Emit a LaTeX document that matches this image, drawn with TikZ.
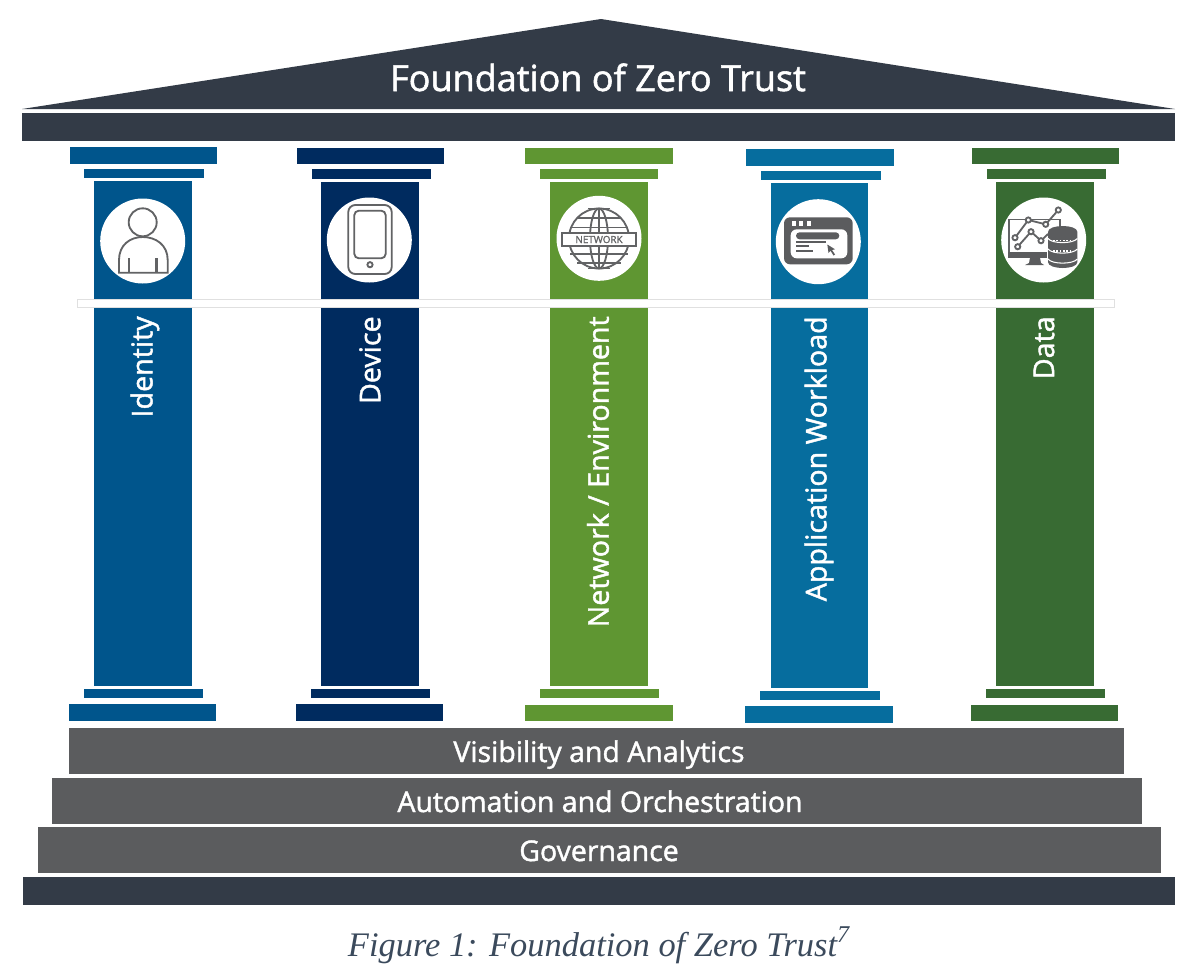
\documentclass[tikz,border=0pt]{standalone}
\usepackage{fontspec}
\setmainfont{Open Sans}[FakeBold=1.5]
\newfontfamily\captionfont{Liberation Serif}
\definecolor{roofdark}{HTML}{333B47}
\definecolor{stepgray}{HTML}{5B5C5E}
\definecolor{icongray}{HTML}{626365}
\definecolor{identblue}{HTML}{00558C}
\definecolor{devnavy}{HTML}{002B5F}
\definecolor{netgreen}{HTML}{5F9632}
\definecolor{appblue}{HTML}{066D9E}
\definecolor{datagreen}{HTML}{386B33}
\definecolor{captionink}{HTML}{3B4A5C}
\tikzset{
  pillartext/.style={text=white, font=\fontsize{16.3}{18}\selectfont, rotate=90, anchor=east, inner sep=0pt},
  steptext/.style={text=white, font=\fontsize{16.2}{18}\selectfont, inner sep=0pt, anchor=base},
  iconline/.style={draw=icongray, line width=1.05pt},
  iconthin/.style={draw=icongray, line width=0.6pt},
}
\begin{document}
\begin{tikzpicture}[x=0.02cm, y=-0.02cm]
  \useasboundingbox (0,0) rectangle (1200,978);
  % roof
  \fill[roofdark] (22,109) -- (601,19) -- (1175,109) -- cycle;
  \fill[roofdark] (22,113) rectangle (1175,141);
  \node[text=white, font=\fontsize{20.5}{22}\selectfont, inner sep=0pt, anchor=base] (title) at (598,91) {Foundation of Zero Trust};
  % identity pillar
  \fill[identblue] (70,147) rectangle (217,164);
  \fill[identblue] (84,169) rectangle (204,178);
  \fill[identblue] (94,181) rectangle (192,686);
  \fill[identblue] (84,689) rectangle (203,698);
  \fill[identblue] (69,704) rectangle (216,721);
  % device pillar
  \fill[devnavy] (297,148) rectangle (444,164);
  \fill[devnavy] (312,169) rectangle (431,179);
  \fill[devnavy] (321,182) rectangle (419,686);
  \fill[devnavy] (311,689) rectangle (430,698);
  \fill[devnavy] (296,704) rectangle (443,721);
  % network pillar
  \fill[netgreen] (525,148) rectangle (673,164);
  \fill[netgreen] (540,169) rectangle (658,179);
  \fill[netgreen] (550,182) rectangle (648,686);
  \fill[netgreen] (540,689) rectangle (659,698);
  \fill[netgreen] (525,705) rectangle (673,721);
  % application pillar
  \fill[appblue] (746,149) rectangle (894,166);
  \fill[appblue] (761,171) rectangle (881,180);
  \fill[appblue] (771,183) rectangle (868,688);
  \fill[appblue] (760,691) rectangle (880,700);
  \fill[appblue] (745,706) rectangle (893,723);
  % data pillar
  \fill[datagreen] (972,148) rectangle (1119,164);
  \fill[datagreen] (987,169) rectangle (1106,179);
  \fill[datagreen] (996,182) rectangle (1094,686);
  \fill[datagreen] (986,689) rectangle (1105,698);
  \fill[datagreen] (971,705) rectangle (1118,721);
  % white band across the pillars
  \draw[fill=white, draw=black!12, line width=0.4pt] (77,299.5) rectangle (1114,307);
  % pillar names
  \node[pillartext] (identity) at (145,316) {Identity};
  \node[pillartext] (device) at (370,316) {Device};
  \node[pillartext] (network) at (598,316) {Network / Environment};
  \node[pillartext] (application) at (819,316) {Application Workload};
  \node[pillartext] (data) at (1044,316) {Data};
  % icon discs
  \fill[white] (142.7,241) circle [radius=42.5];
  \fill[white] (369.3,240) circle [radius=42.5];
  \fill[white] (599,238.3) circle [radius=42.5];
  \fill[white] (818.3,241.7) circle [radius=42.5];
  \fill[white] (1043.7,240) circle [radius=42.5];
  % person
  \draw[iconline] (142.7,222.3) circle [radius=14];
  \draw[iconline] (119,272.7) -- (119,260) .. controls (119,245) and (130,237) .. (142.7,237)
    .. controls (156,237) and (167.7,245) .. (167.7,260) -- (167.7,272.7) -- cycle;
  \draw[iconline, line width=1.7pt] (129,258) -- (129,272.7);
  \draw[iconline, line width=1.7pt] (156.7,258) -- (156.7,272.7);
  % phone
  \draw[iconline, rounded corners=0.14cm] (348.3,205) rectangle (391.7,274);
  \draw[iconline, rounded corners=0.09cm] (354.3,210.7) rectangle (385.7,258.3);
  \draw[iconline] (370,264.7) circle [radius=2.6];
  % globe
  \draw[iconline] (599,238.5) circle [radius=30];
  \draw[iconline] (599,238.5) ellipse [x radius=9, y radius=30];
  \draw[iconthin] (599,208) -- (599,269);
  \draw[iconline] (588,208.5) -- (610,208.5);
  \draw[iconline] (588,268.5) -- (610,268.5);
  \draw[iconline] (577,218.3) -- (621,218.3);
  \draw[iconline] (570,227.5) -- (628,227.5);
  \draw[iconline] (570,254) -- (628,254);
  \draw[iconline] (577,263) -- (621,263);
  \node[draw=icongray, fill=white, line width=1.05pt, minimum width=1.48cm, minimum height=0.27cm, inner sep=0pt,
    text=icongray, font=\fontsize{5.6}{6}\selectfont] (globelabel) at (599,239.5) {NETWORK};
  % browser window
  \fill[stepgray, rounded corners=0.12cm] (784,217.3) rectangle (852.7,264.3);
  \fill[white] (791.5,221) rectangle (795.5,225.5);
  \fill[white] (799,221) rectangle (803,225.5);
  \fill[white] (806.5,221) rectangle (810.5,225.5);
  \fill[white, rounded corners=0.12cm] (790.7,229.3) rectangle (847.3,258.3);
  \fill[stepgray, rounded corners=0.07cm] (796,232.3) rectangle (839.3,239.3);
  \draw[iconline, draw=stepgray] (796,241.7) -- (826,241.7);
  \draw[iconline, draw=stepgray] (796,246.3) -- (808.7,246.3);
  \draw[iconline, draw=stepgray] (796,251.3) -- (813.3,251.3);
  \fill[stepgray] (827.3,244.5) -- (828.5,253) -- (830.5,250.7) -- (833.5,255.5) -- (835,254.5) -- (832,250) -- (835,249.3) -- cycle;
  % monitor and chart
  \draw[iconthin, line width=0.8pt] (1008.8,252) -- (1008.8,219.7) -- (1060,219.7) -- (1060,226);
  \fill[stepgray] (1008.3,251.7) rectangle (1047.3,257.7);
  \fill[stepgray] (1030,257.7) -- (1040,257.7) -- (1041,263) -- (1044,265) -- (1025,265) -- (1029,263) -- cycle;
  \draw[iconline] (1015,237.7) -- (1028.3,220) -- (1045.7,224.3) -- (1058.3,210);
  \draw[iconline] (1017.7,246.7) -- (1031,231.7) -- (1041,240.7) -- (1048,234);
  \foreach \px/\py in {1015/237.7, 1028.3/220, 1045.7/224.3, 1058.3/210, 1017.7/246.7, 1031/231.7, 1041/240.7}
    \draw[iconline, fill=white] (\px,\py) circle [radius=2.6];
  % database
  \fill[stepgray] (1048,232) -- (1048,262) .. controls (1048,270) and (1077.4,270) .. (1077.4,262) -- (1077.4,232) .. controls (1077.4,224) and (1048,224) .. (1048,232) -- cycle;
  \draw[white, line width=0.6pt] (1048,238.5) .. controls (1052,244) and (1073,244) .. (1077.4,238.5);
  \draw[white, line width=0.6pt] (1048,249) .. controls (1052,254.5) and (1073,254.5) .. (1077.4,249);
  \draw[white, line width=0.6pt] (1048,259) .. controls (1052,264.5) and (1073,264.5) .. (1077.4,259);
  \draw[white, line width=0.9pt, densely dotted] (1053,240.5) -- (1072,240.5);
  \draw[white, line width=0.9pt, densely dotted] (1053,251) -- (1072,251);
  % steps under the pillars
  \fill[stepgray] (69,728) rectangle (1124,774);
  \fill[stepgray] (52,778) rectangle (1142,824);
  \fill[stepgray] (38,827) rectangle (1161,873);
  \fill[roofdark] (23,877) rectangle (1175,905);
  \node[steptext] (visibility) at (599,762) {Visibility and Analytics};
  \node[steptext] (automation) at (600,812) {Automation and Orchestration};
  \node[steptext] (governance) at (599,861) {Governance};
  % caption
  \node[text=captionink, font=\captionfont\itshape\fontsize{19.6}{22}\selectfont, inner sep=0pt, anchor=base] (caption) at (599,956) {Figure 1: Foundation of Zero Trust\textsuperscript{7}};
\end{tikzpicture}
\end{document}
